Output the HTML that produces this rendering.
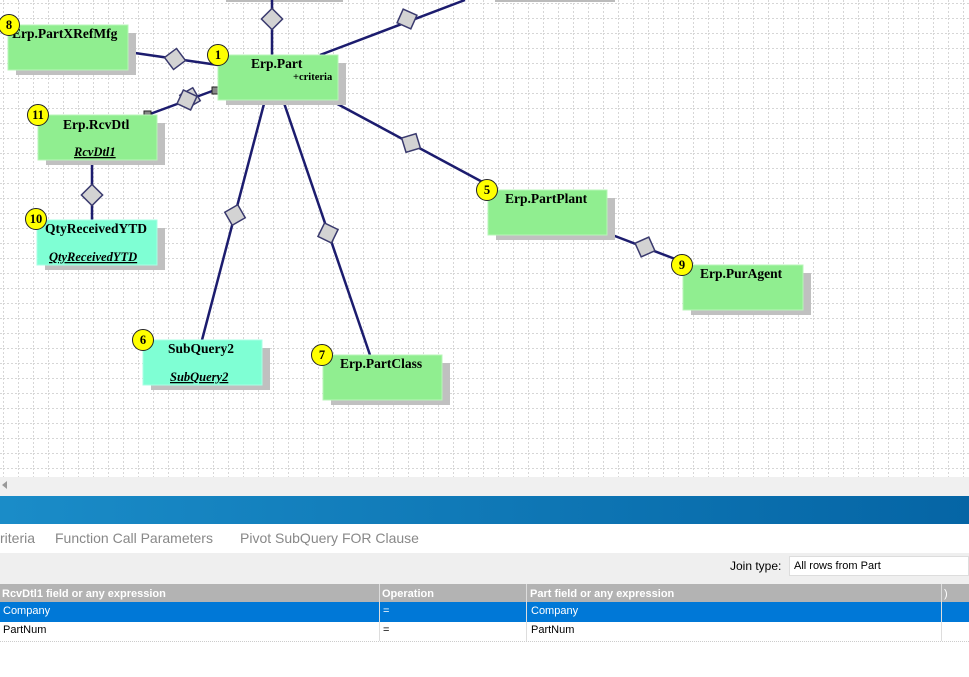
<!DOCTYPE html>
<html><head><meta charset="utf-8"><style>
body{margin:0;width:969px;height:677px;overflow:hidden;background:#fff;font-family:"Liberation Sans",sans-serif;position:relative}
.tab{position:absolute;top:530px;font-size:14px;color:#888}
.cell{position:absolute;font-size:11px;}
</style></head><body>
<svg width="969" height="477" style="position:absolute;left:0;top:0" font-family="Liberation Serif">
<defs>
<pattern id="g" width="15" height="15" patternUnits="userSpaceOnUse" x="3" y="3">
<path d="M0 0.5H15M0.5 0V15" stroke="#d6d6d6" stroke-width="1" stroke-dasharray="2,2" fill="none"/>
</pattern>
</defs>
<rect width="969" height="477" fill="#fff"/>
<rect width="969" height="477" fill="url(#g)"/>
<rect x="226" y="0" width="117" height="2" fill="#bbb"/>
<rect x="495" y="0" width="120" height="2" fill="#bbb"/>
<g stroke="#1c1c6e" stroke-width="2.5" fill="none">
<line x1="272" y1="0" x2="272" y2="55"/>
<line x1="320" y1="55" x2="465" y2="0"/>
<line x1="128" y1="52" x2="218" y2="65"/>
<line x1="150" y1="114" x2="215" y2="90"/>
<line x1="92" y1="160" x2="92" y2="220"/>
<line x1="265" y1="100" x2="202" y2="340"/>
<line x1="283" y1="100" x2="370" y2="355"/>
<line x1="330" y1="100" x2="488" y2="185"/>
<line x1="607" y1="233" x2="683" y2="262"/>
</g>
<g fill="#d3d3d3" stroke="#3a3a6e" stroke-width="1.5">
<rect x="-7.5" y="-7.5" width="15" height="15" transform="translate(272,19) rotate(45)"/>
<rect x="-7.5" y="-7.5" width="15" height="15" transform="translate(407,19) rotate(24)"/>
<rect x="-7.5" y="-7.5" width="15" height="15" transform="translate(175,59) rotate(53)"/>
<rect x="-7.5" y="-7.5" width="15" height="15" transform="translate(190,98) rotate(60)"/>
<rect x="-7.5" y="-7.5" width="15" height="15" transform="translate(187,100) rotate(25)"/>
<rect x="-7.5" y="-7.5" width="15" height="15" transform="translate(92,195) rotate(45)"/>
<rect x="-7.5" y="-7.5" width="15" height="15" transform="translate(235,215) rotate(60)"/>
<rect x="-7.5" y="-7.5" width="15" height="15" transform="translate(328,233) rotate(26)"/>
<rect x="-7.5" y="-7.5" width="15" height="15" transform="translate(411,143) rotate(73)"/>
<rect x="-7.5" y="-7.5" width="15" height="15" transform="translate(645,247) rotate(66)"/>
</g>
<rect x="144" y="111" width="7" height="7" fill="#888" stroke="#222"/>
<rect x="212" y="87" width="7" height="7" fill="#888" stroke="#222"/>
<g fill="#c0c0c0">
<rect x="16" y="33" width="120" height="42"/>
<rect x="226" y="63" width="120" height="42"/>
<rect x="46" y="123" width="119" height="42"/>
<rect x="45" y="228" width="120" height="42"/>
<rect x="151" y="348" width="119" height="42"/>
<rect x="331" y="363" width="119" height="42"/>
<rect x="496" y="198" width="119" height="42"/>
<rect x="691" y="273" width="120" height="42"/>
</g>
<g fill="#90ee90" stroke="#b8f5b8" stroke-width="1">
<rect x="8" y="25" width="120" height="45"/>
<rect x="218" y="55" width="120" height="45"/>
<rect x="38" y="115" width="119" height="45"/>
<rect x="323" y="355" width="119" height="45"/>
<rect x="488" y="190" width="119" height="45"/>
<rect x="683" y="265" width="120" height="45"/>
</g>
<g fill="#7fffd4" stroke="#a8ffe4">
<rect x="37" y="220" width="120" height="45"/>
<rect x="143" y="340" width="119" height="45"/>
</g>
<g font-weight="bold" font-size="13.5" fill="#000">
<text x="12" y="38">Erp.PartXRefMfg</text>
<text x="251" y="68">Erp.Part</text>
<text x="293" y="80" font-size="10.5">+criteria</text>
<text x="63" y="129">Erp.RcvDtl</text>
<text x="74" y="156" font-style="italic" text-decoration="underline" font-size="12.5">RcvDtl1</text>
<text x="45" y="233">QtyReceivedYTD</text>
<text x="49" y="261" font-style="italic" text-decoration="underline" font-size="12.5">QtyReceivedYTD</text>
<text x="168" y="353">SubQuery2</text>
<text x="170" y="381" font-style="italic" text-decoration="underline" font-size="12.5">SubQuery2</text>
<text x="340" y="368">Erp.PartClass</text>
<text x="505" y="203">Erp.PartPlant</text>
<text x="700" y="278">Erp.PurAgent</text>
</g>
<g fill="#ffff00" stroke="#222" stroke-width="1">
<circle cx="9" cy="25" r="10.5"/><circle cx="218" cy="55" r="10.5"/><circle cx="38" cy="115" r="10.5"/>
<circle cx="36" cy="219" r="10.5"/><circle cx="143" cy="340" r="10.5"/><circle cx="322" cy="355" r="10.5"/>
<circle cx="487" cy="190" r="10.5"/><circle cx="682" cy="265" r="10.5"/>
</g>
<g font-weight="bold" font-size="12.5" text-anchor="middle" fill="#000">
<text x="9" y="29">8</text><text x="218" y="59">1</text><text x="38" y="119">11</text>
<text x="36" y="223">10</text><text x="143" y="344">6</text><text x="322" y="359">7</text>
<text x="487" y="194">5</text><text x="682" y="269">9</text>
</g>
</svg>
<div style="position:absolute;left:0;top:477px;width:969px;height:19px;background:#f0f0f0"></div>
<div style="position:absolute;left:2px;top:481px;width:0;height:0;border-top:4px solid transparent;border-bottom:4px solid transparent;border-right:5px solid #999"></div>
<div style="position:absolute;left:0;top:496px;width:969px;height:28px;background:linear-gradient(90deg,#1a8cc8,#0565a5)"></div>
<div class="tab" style="left:0">riteria</div>
<div class="tab" style="left:55px">Function Call Parameters</div>
<div class="tab" style="left:240px">Pivot SubQuery FOR Clause</div>
<div style="position:absolute;left:0;top:553px;width:969px;height:31px;background:#efefef"></div>
<div style="position:absolute;left:730px;top:559px;font-size:12px;color:#000">Join type:</div>
<div style="position:absolute;left:789px;top:556px;width:180px;height:20px;background:#fff;border:1px solid #ddd;box-sizing:border-box;font-size:11px;padding:3px 4px">All rows from Part</div>
<div style="position:absolute;left:0;top:584px;width:969px;height:18px;background:#b3b3b3"></div>
<div style="position:absolute;left:0;top:602px;width:969px;height:20px;background:#0078d7"></div>
<div style="position:absolute;left:0;top:641px;width:969px;border-top:1px dotted #ccc"></div>
<div style="position:absolute;left:379px;top:584px;width:1px;height:57px;background:#ddd"></div>
<div style="position:absolute;left:526px;top:584px;width:1px;height:57px;background:#ddd"></div>
<div style="position:absolute;left:941px;top:584px;width:1px;height:57px;background:#ddd"></div>
<div class="cell" style="left:2px;top:588px;color:#fff;font-weight:bold">RcvDtl1 field or any expression</div>
<div class="cell" style="left:382px;top:588px;color:#fff;font-weight:bold">Operation</div>
<div class="cell" style="left:530px;top:588px;color:#fff;font-weight:bold">Part field or any expression</div>
<div class="cell" style="left:944px;top:588px;color:#fff">)</div>
<div class="cell" style="left:3px;top:605px;color:#fff">Company</div>
<div class="cell" style="left:383px;top:605px;color:#fff">=</div>
<div class="cell" style="left:531px;top:605px;color:#fff">Company</div>
<div class="cell" style="left:3px;top:624px">PartNum</div>
<div class="cell" style="left:383px;top:624px">=</div>
<div class="cell" style="left:531px;top:624px">PartNum</div>
</body></html>
